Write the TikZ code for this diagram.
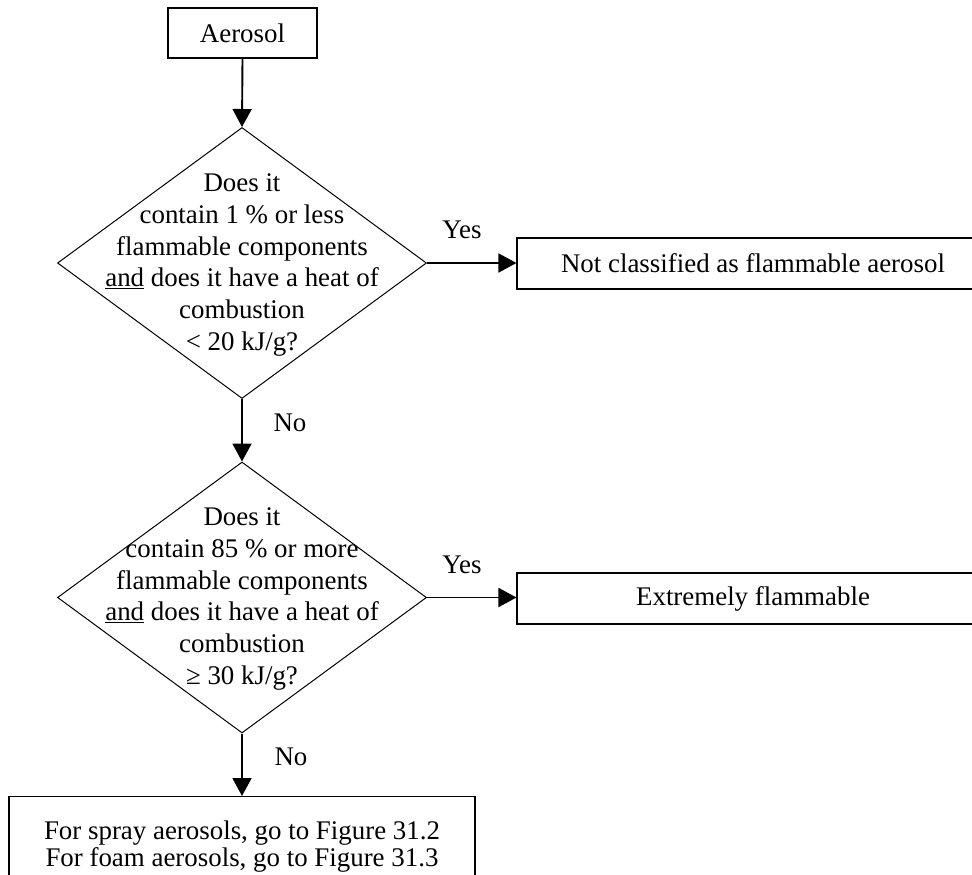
\documentclass[tikz,border=0pt]{standalone}
\usepackage{fontspec}
\setmainfont{Liberation Serif}
\usetikzlibrary{shapes.geometric,arrows.meta}
\begin{document}
\begin{tikzpicture}[x=1pt,y=-1pt,
  box/.style={draw,line width=1.1pt,inner sep=0pt,align=center,font=\fontsize{26.9}{31.7}\selectfont},
  dia/.style={draw,line width=1pt,shape=diamond,minimum width=369pt,minimum height=271pt,inner sep=0pt},
  qtext/.style={align=center,inner sep=0pt,font=\fontsize{26.9}{31.7}\selectfont},
  lbl/.style={inner sep=0pt,font=\fontsize{26.9}{30}\selectfont},
  arr/.style={line width=1.9pt,-{Triangle[length=18pt,width=19pt]}}]
\path[use as bounding box] (0,0) rectangle (972,875);
\clip (0,0) rectangle (972,875);

\node[box,minimum width=149pt,minimum height=50pt] (aer) at (242.5,33) {Aerosol};

\node[dia] (d1) at (242,263) {};
\node[qtext] (q1) at (242,265) {Does it\\contain 1 \% or less\\flammable components\\\underline{and} does it have a heat of\\combustion\\< 20 kJ/g?};

\node[box,minimum width=472pt,minimum height=51pt] (b1) at (753,263.5) {Not classified as flammable aerosol};

\node[dia] (d2) at (242,597.5) {};
\node[qtext] (q2) at (242,599) {Does it\\contain 85 \% or more\\flammable components\\\underline{and} does it have a heat of\\combustion\\≥ 30 kJ/g?};

\node[box,minimum width=472pt,minimum height=51pt] (b2) at (753,598.5) {Extremely flammable};

\node[box,anchor=north,minimum width=466pt,inner ysep=24pt,font=\fontsize{26.9}{27}\selectfont] (b3) at (242,796) {For spray aerosols, go to Figure 31.2\\For foam aerosols, go to Figure 31.3};

\node[lbl] (y1) at (462,230) {Yes};
\node[lbl] (y2) at (462,565) {Yes};
\node[lbl] (n1) at (290,423) {No};
\node[lbl] (n2) at (291,757) {No};

\draw[arr] (aer.south) -- (d1.north);
\draw[arr] (d1.east) -- (d1.east -| b1.west);
\draw[arr] (d1.south) -- (d2.north);
\draw[arr] (d2.east) -- (d2.east -| b2.west);
\draw[arr] (d2.south) -- (b3.north);
\end{tikzpicture}
\end{document}
